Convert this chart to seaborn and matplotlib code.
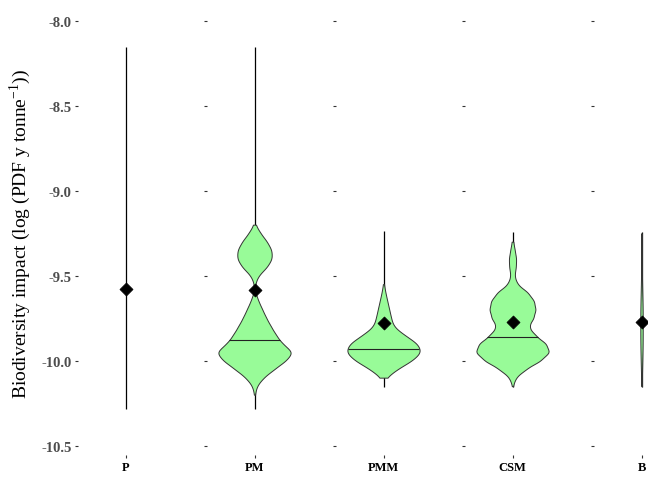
"""Biodiversity impact violins per production system."""

import matplotlib

matplotlib.use("Agg")
import matplotlib.pyplot as plt
import numpy as np
import pandas as pd
import seaborn as sns

CATEGORIES = ["P", "PM", "PMM", "CSM", "B"]

# binned impact values (log PDF y tonne^-1) and the number of runs in each bin
LEVELS = [-10.25, -10.20, -10.15, -10.10, -10.05, -10.00, -9.95, -9.90,
          -9.85, -9.80, -9.75, -9.70, -9.65, -9.60, -9.55, -9.50,
          -9.45, -9.40, -9.35, -9.30, -9.25, -9.20]
COUNTS = {
    "P": [0] * 22,
    "PM": [0, 1, 5, 22, 50, 80, 100, 70, 55, 42, 30, 20, 10, 2, 1, 9,
           32, 45, 44, 32, 15, 2],
    "PMM": [0, 0, 0, 6, 35, 75, 100, 90, 55, 25, 20, 15, 10, 5, 1, 0,
            0, 0, 0, 0, 0, 0],
    "CSM": [0, 0, 1, 8, 35, 75, 100, 90, 60, 42, 56, 62, 58, 42, 12, 5,
            9, 10, 6, 2, 0, 0],
    "B": [0, 0, 1, 2, 3, 4, 5, 6, 6, 6, 6, 6, 5, 4, 3, 2, 2, 1, 1, 1, 1, 0],
}
RANGE_MIN = [-10.285, -10.285, -10.157, -10.157, -10.157]
RANGE_MAX = [-8.155, -8.155, -9.235, -9.245, -9.245]
MEANS = [-9.58, -9.584, -9.78, -9.774, -9.775]
MEDIANS = [None, -9.878, -9.931, -9.862, None]
VIOLIN_WIDTH = [0.0, 0.76, 0.76, 0.76, 0.025]
BANDWIDTH = [None, 0.03, 0.032, 0.027, 0.06]

FILL = "#98FB98"
EDGE = "#333333"

rows = []
for cat in CATEGORIES:
    vals = np.repeat(LEVELS, COUNTS[cat])
    rows.append(pd.DataFrame({"system": cat, "impact": vals}))
df = pd.concat(rows, ignore_index=True)

sns.set_theme(style="white")
plt.rcParams["font.family"] = ["Liberation Serif", "DejaVu Serif"]
plt.rcParams["mathtext.fontset"] = "custom"
plt.rcParams["mathtext.rm"] = "Liberation Serif"

fig = plt.figure(figsize=(6.48, 4.85), dpi=100)
W, H = 648, 485
panel_w, step, left0 = 95, 129, 78
bottom_px, top_px = 456, 12.3
ylim = (-10.555, -7.945)

for i, cat in enumerate(CATEGORIES):
    x0 = left0 + i * step
    ax = fig.add_axes([x0 / W, 1 - bottom_px / H, panel_w / W, (bottom_px - top_px) / H])
    ax.vlines(0, RANGE_MIN[i], RANGE_MAX[i], color="black", linewidth=0.9, zorder=1)

    sub = df[df["system"] == cat]
    if len(sub) > 0:
        bw = BANDWIDTH[i] / sub["impact"].std()
        sns.violinplot(data=sub, y="impact", ax=ax, cut=0, inner=None,
                       density_norm="width", width=VIOLIN_WIDTH[i],
                       bw_method=bw, color=FILL, saturation=1,
                       linecolor=EDGE, linewidth=0.7, zorder=2)
        if MEDIANS[i] is not None:
            verts = ax.collections[-1].get_paths()[0].vertices
            right = verts[verts[:, 0] >= 0]
            right = right[np.argsort(right[:, 1])]
            hw = np.interp(MEDIANS[i], right[:, 1], right[:, 0])
            ax.hlines(MEDIANS[i], -hw, hw, color="#222222", linewidth=0.8, zorder=3)

    sns.scatterplot(x=[0], y=[MEANS[i]], marker="D", s=44, color="black",
                    edgecolor="black", ax=ax, zorder=4, legend=False)

    ax.set_xlim(-0.5, 0.5)
    ax.set_ylim(*ylim)
    ax.set_xticks([0])
    ax.set_xticklabels([cat], fontweight="bold", color="black", fontsize=9)
    ax.set_yticks([-10.5, -10.0, -9.5, -9.0, -8.5, -8.0])
    ax.set_xlabel("")
    ax.set_ylabel("")
    for s in ax.spines.values():
        s.set_visible(False)
    ax.tick_params(axis="both", length=2.5, width=0.8, color="#333333", pad=2,
                   left=True, bottom=True)
    if i == 0:
        ax.set_yticklabels(["-10.5", "-10.0", "-9.5", "-9.0", "-8.5", "-8.0"],
                           fontweight="bold", color="#4D4D4D", fontsize=10.5)
        ax.set_ylabel("Biodiversity impact (log (PDF y tonne$^{-1}$))",
                      fontsize=14, color="black", labelpad=6)
    else:
        ax.set_yticklabels([])

fig.savefig("out.png", dpi=100)
